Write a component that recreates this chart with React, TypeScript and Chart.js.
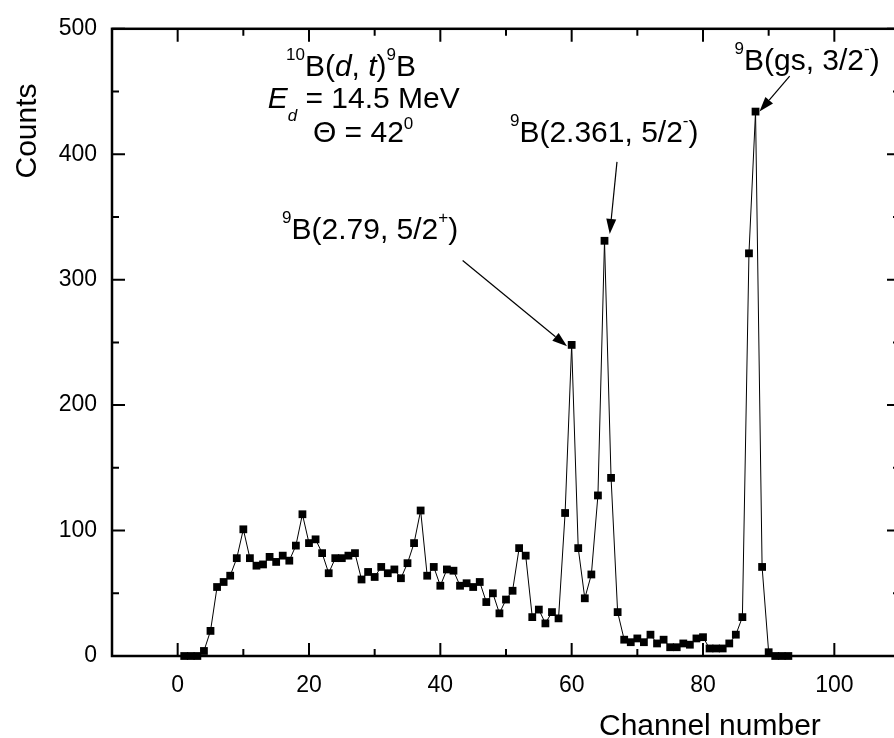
import React, { useEffect, useRef } from 'react';
import { Chart, registerables } from 'chart.js';

Chart.register(...registerables);

const channels = [
  1, 2, 3, 4, 5, 6, 7, 8, 9, 10,
  11, 12, 13, 14, 15, 16, 17, 18, 19, 20,
  21, 22, 23, 24, 25, 26, 27, 28, 29, 30,
  31, 32, 33, 34, 35, 36, 37, 38, 39, 40,
  41, 42, 43, 44, 45, 46, 47, 48, 49, 50,
  51, 52, 53, 54, 55, 56, 57, 58, 59, 60,
  61, 62, 63, 64, 65, 66, 67, 68, 69, 70,
  71, 72, 73, 74, 75, 76, 77, 78, 79, 80,
  81, 82, 83, 84, 85, 86, 87, 88, 89, 90,
  91, 92, 93,
];

const counts = [
  0, 0, 0, 4, 20, 55, 59, 64, 78, 101,
  78, 72, 73, 79, 75, 80, 76, 88, 113, 90,
  93, 82, 66, 78, 78, 80, 82, 61, 67, 63,
  71, 66, 69, 62, 74, 90, 116, 64, 71, 56,
  69, 68, 56, 58, 55, 59, 43, 50, 34, 45,
  52, 86, 80, 31, 37, 26, 35, 30, 114, 248,
  86, 46, 65, 128, 331, 142, 35, 13, 11, 14,
  11, 17, 10, 13, 7, 7, 10, 9, 14, 15,
  6, 6, 6, 10, 17, 31, 321, 434, 71, 3,
  0, 0, 0,
];

const xMajorTicks = [0, 20, 40, 60, 80, 100];
const xMinorTicks = [-10, 10, 30, 50, 70, 90, 110];
const yMajorTicks = [0, 100, 200, 300, 400, 500];
const yMinorTicks = [50, 150, 250, 350, 450];

const xTitle = 'Channel number';
const yTitle = 'Counts';

type Part = { t: string; kind?: 'sup' | 'sub'; it?: boolean; raise?: number };

const textLabels: { x: number; y: number; parts: Part[] }[] = [
  {
    x: 16.5, y: 462.3,
    parts: [
      { t: '10', kind: 'sup' }, { t: 'B(' }, { t: 'd', it: true }, { t: ', ' },
      { t: 't', it: true }, { t: ')' }, { t: '9', kind: 'sup' }, { t: 'B' },
    ],
  },
  {
    x: 13.7, y: 437.1,
    parts: [{ t: 'E', it: true }, { t: 'd', kind: 'sub', it: true }, { t: ' = 14.5 MeV' }],
  },
  {
    x: 20.6, y: 409.6,
    parts: [{ t: '\u0398 = 42' }, { t: '0', kind: 'sup', raise: 13 }],
  },
  {
    x: 50.6, y: 409.6,
    parts: [{ t: '9', kind: 'sup' }, { t: 'B(2.361, 5/2' }, { t: '-', kind: 'sup' }, { t: ')' }],
  },
  {
    x: 15.9, y: 332.5,
    parts: [{ t: '9', kind: 'sup' }, { t: 'B(2.79, 5/2' }, { t: '+', kind: 'sup' }, { t: ')' }],
  },
  {
    x: 84.8, y: 467,
    parts: [{ t: '9', kind: 'sup' }, { t: 'B(gs, 3/2' }, { t: '-', kind: 'sup' }, { t: ')' }],
  },
];

const arrows = [
  { x1: 93.2, y1: 462.3, x2: 88.6, y2: 434 },
  { x1: 66.9, y1: 393.9, x2: 65.8, y2: 336.5 },
  { x1: 43.4, y1: 315.3, x2: 59.3, y2: 246.9 },
];

const FONT = "'Liberation Sans', Arial, Helvetica, sans-serif";

function drawRich(ctx: CanvasRenderingContext2D, x: number, y: number, parts: Part[]) {
  let cx = x;
  ctx.textAlign = 'left';
  ctx.textBaseline = 'alphabetic';
  for (const p of parts) {
    const size = p.kind ? 17 : 30;
    let dy = 0;
    if (p.kind === 'sup') dy = p.raise ?? 16;
    if (p.kind === 'sub') dy = p.raise ?? -13;
    ctx.font = `${p.it ? 'italic ' : ''}${size}px ${FONT}`;
    ctx.fillText(p.t, cx, y - dy);
    cx += ctx.measureText(p.t).width;
  }
}

const framePlugin = {
  id: 'framePlugin',
  beforeDatasetsDraw(chart: any) {
    const { ctx, chartArea } = chart;
    const { left, right, top, bottom } = chartArea;
    const xs = chart.scales.x;
    const ys = chart.scales.y;
    ctx.save();
    ctx.strokeStyle = '#000';
    ctx.lineWidth = 2.5;
    ctx.strokeRect(left, top, right - left, bottom - top);
    ctx.lineWidth = 2;
    const tick = (v: number, len: number, axis: 'x' | 'y') => {
      ctx.beginPath();
      if (axis === 'x') {
        const px = xs.getPixelForValue(v);
        ctx.moveTo(px, bottom); ctx.lineTo(px, bottom - len);
        ctx.moveTo(px, top); ctx.lineTo(px, top + len);
      } else {
        const py = ys.getPixelForValue(v);
        ctx.moveTo(left, py); ctx.lineTo(left + len, py);
        ctx.moveTo(right, py); ctx.lineTo(right - len, py);
      }
      ctx.stroke();
    };
    xMajorTicks.forEach((v) => tick(v, 13, 'x'));
    xMinorTicks.forEach((v) => tick(v, 7, 'x'));
    yMajorTicks.forEach((v) => tick(v, 13, 'y'));
    yMinorTicks.forEach((v) => tick(v, 7, 'y'));
    ctx.restore();
  },
  afterDraw(chart: any) {
    const { ctx } = chart;
    const xs = chart.scales.x;
    const ys = chart.scales.y;
    ctx.save();
    ctx.fillStyle = '#000';
    ctx.strokeStyle = '#000';
    // axis titles
    ctx.font = `30px ${FONT}`;
    ctx.textAlign = 'left';
    ctx.textBaseline = 'alphabetic';
    ctx.fillText(xTitle, 599, 735);
    ctx.save();
    ctx.translate(36, 131);
    ctx.rotate(-Math.PI / 2);
    ctx.textAlign = 'center';
    ctx.fillText(yTitle, 0, 0);
    ctx.restore();
    // annotations
    for (const l of textLabels) {
      drawRich(ctx, xs.getPixelForValue(l.x), ys.getPixelForValue(l.y), l.parts);
    }
    for (const a of arrows) {
      const x1 = xs.getPixelForValue(a.x1);
      const y1 = ys.getPixelForValue(a.y1);
      const x2 = xs.getPixelForValue(a.x2);
      const y2 = ys.getPixelForValue(a.y2);
      const ang = Math.atan2(y2 - y1, x2 - x1);
      const hl = 15;
      const hw = 5;
      const bx = x2 - hl * Math.cos(ang);
      const by = y2 - hl * Math.sin(ang);
      ctx.lineWidth = 1.2;
      ctx.beginPath();
      ctx.moveTo(x1, y1);
      ctx.lineTo(bx, by);
      ctx.stroke();
      ctx.beginPath();
      ctx.moveTo(x2, y2);
      ctx.lineTo(bx + hw * Math.sin(ang), by - hw * Math.cos(ang));
      ctx.lineTo(bx - hw * Math.sin(ang), by + hw * Math.cos(ang));
      ctx.closePath();
      ctx.fill();
    }
    ctx.restore();
  },
};

export default function App() {
  const canvasRef = useRef<HTMLCanvasElement | null>(null);

  useEffect(() => {
    document.body.style.margin = '0';
    document.documentElement.style.overflow = 'hidden';
    const canvas = canvasRef.current;
    if (!canvas) return;
    const chart = new Chart(canvas, {
      type: 'line',
      data: {
        datasets: [
          {
            data: channels.map((c, i) => ({ x: c, y: counts[i] })),
            borderColor: '#000',
            borderWidth: 1,
            backgroundColor: '#000',
            pointStyle: 'rect',
            pointRadius: 5.5,
            pointBorderWidth: 0,
            pointBackgroundColor: '#000',
            tension: 0,
            clip: false as any,
          },
        ],
      },
      options: {
        animation: false,
        responsive: false,
        maintainAspectRatio: false,
        layout: { padding: { top: 20, right: 20, left: 0, bottom: 0 } },
        plugins: { legend: { display: false }, tooltip: { enabled: false } },
        scales: {
          x: {
            type: 'linear',
            min: -10,
            max: 110,
            grid: { display: false, drawTicks: false },
            border: { display: false },
            afterBuildTicks: (s: any) => { s.ticks = xMajorTicks.map((v) => ({ value: v })); },
            afterFit: (s: any) => { s.height = 82; },
            ticks: {
              color: '#000',
              font: { family: FONT, size: 23 },
              padding: 16,
              maxRotation: 0,
              autoSkip: false,
            },
          },
          y: {
            type: 'linear',
            min: 0,
            max: 500,
            grid: { display: false, drawTicks: false },
            border: { display: false },
            afterBuildTicks: (s: any) => { s.ticks = yMajorTicks.map((v) => ({ value: v })); },
            afterFit: (s: any) => { s.width = 112; },
            ticks: {
              color: '#000',
              font: { family: FONT, size: 23 },
              padding: 15,
              autoSkip: false,
            },
          },
        },
      },
      plugins: [framePlugin],
    });
    return () => chart.destroy();
  }, []);

  return (
    <div style={{ width: 894, height: 738, overflow: 'hidden', background: '#fff' }}>
      <canvas ref={canvasRef} width={920} height={738} style={{ display: 'block', width: 920, height: 738 }} />
    </div>
  );
}
